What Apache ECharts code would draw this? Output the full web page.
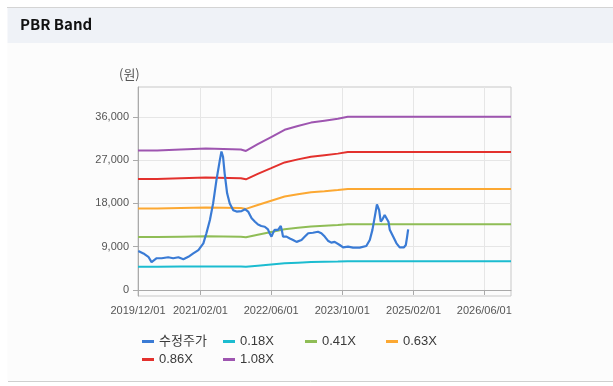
<!DOCTYPE html>
<html>
<head>
<meta charset="utf-8">
<script src="https://cdn.jsdelivr.net/npm/echarts@6/dist/echarts.min.js"></script>
<style>
html,body{margin:0;padding:0;background:#fff;}
#c{width:613px;height:386px;}
</style>
</head>
<body>
<div id="c"></div>
<script>
// ---- data ----
var xTickLabels = ['2019-12-01','2021-02-01','2022-06-01','2023-10-01','2025-02-01','2026-06-01'];
var yTickValues = [0, 9000, 18000, 27000, 36000];

var priceDates = ['2019-12-03','2020-01-07','2020-02-10','2020-03-03','2020-03-14','2020-04-07','2020-05-11','2020-06-25','2020-07-29','2020-09-03','2020-10-07','2020-11-10','2020-12-14','2021-01-18','2021-01-29','2021-02-21','2021-03-14','2021-04-07','2021-04-29','2021-05-22','2021-06-14','2021-06-25','2021-07-06','2021-07-17','2021-08-03','2021-08-21','2021-09-14','2021-10-07','2021-11-10','2021-12-03','2021-12-25','2022-01-18','2022-02-10','2022-03-03','2022-03-25','2022-04-18','2022-05-10','2022-05-21','2022-06-03','2022-06-14','2022-06-25','2022-07-07','2022-07-18','2022-08-06','2022-08-15','2022-08-21','2022-09-14','2022-10-07','2022-10-29','2022-11-22','2022-12-26','2023-01-18','2023-02-10','2023-03-14','2023-04-18','2023-05-11','2023-06-03','2023-06-25','2023-07-18','2023-08-10','2023-09-14','2023-10-07','2023-11-10','2023-12-14','2024-01-29','2024-03-14','2024-04-07','2024-04-25','2024-05-11','2024-05-26','2024-06-10','2024-06-21','2024-07-03','2024-07-18','2024-07-30','2024-08-13','2024-08-22','2024-09-14','2024-10-07','2024-10-29','2024-11-26','2024-12-10','2024-12-19','2024-12-26'];
var priceValues = [8100,7600,6900,5800,6200,6600,6600,6800,6600,6800,6400,6900,7600,8300,8650,9700,11800,14550,18000,22900,27000,28800,27700,24250,20100,18000,16600,16300,16400,16800,16300,14900,14200,13600,13300,13150,12600,11800,11100,11900,12500,12100,12500,13300,12100,11100,11100,10700,10400,10000,10400,11100,11800,11900,12100,11800,11100,10250,9850,10000,9350,8850,9000,8800,8800,9150,10400,12500,15200,17800,16600,14200,14700,15600,15200,14200,12500,11100,9700,8850,8850,9350,11100,12600];

var bandDates = ['2019-12-01','2020-04-10','2020-04-20','2020-09-20','2020-09-30','2021-03-10','2021-03-20','2021-11-05','2021-11-15','2021-12-10','2022-03-01','2022-06-01','2022-09-01','2022-12-01','2023-03-01','2023-06-01','2023-09-01','2023-11-08','2026-12-01'];
var band018 = [4830,4830,4870,4870,4900,4900,4870,4870,4820,4820,5050,5300,5550,5680,5800,5870,5930,6000,6000];
var band041 = [11010,11010,11080,11080,11160,11160,11080,11080,10970,10970,11500,12070,12640,12950,13210,13360,13510,13670,13670];
var band063 = [16920,16920,17030,17030,17150,17150,17030,17030,16860,16860,17670,18550,19420,19890,20300,20530,20770,21000,21000];
var band086 = [23090,23090,23250,23250,23410,23410,23250,23250,23010,23010,24130,25320,26520,27150,27710,28030,28350,28670,28670];
var band108 = [29000,29000,29200,29200,29400,29400,29200,29200,28900,28900,30300,31800,33300,34100,34800,35200,35600,36000,36000];

var seriesNames = ['수정주가','0.18X','0.41X','0.63X','0.86X','1.08X'];
var seriesColors = ['#3a7bd5','#1cbcd0','#8fbd56','#fca832','#e3312d','#9e55b0'];

// ---- build ----
function ts(s){ var p=s.split('-'); return Date.UTC(+p[0], +p[1]-1, +p[2]); }
function pairs(d, v){ var o=[]; for(var i=0;i<d.length;i++){ o.push([ts(d[i]), v[i]]); } return o; }
function pad(n){ return (n<10?'0':'')+n; }

var bandData = [band018, band041, band063, band086, band108];
var series = [];
for (var k=0;k<5;k++){
  series.push({
    name: seriesNames[k+1], type:'line', data: pairs(bandDates, bandData[k]),
    showSymbol:false, symbol:'none', lineStyle:{width:2, color:seriesColors[k+1]},
    itemStyle:{color:seriesColors[k+1]}, z:2, silent:true
  });
}
series.unshift({
  name: seriesNames[0], type:'line', data: pairs(priceDates, priceValues),
  showSymbol:false, symbol:'none', lineStyle:{width:2.2, color:seriesColors[0]},
  itemStyle:{color:seriesColors[0]}, z:4, silent:true
});

var legendPos = [[142,335],[223,335],[305,335],[386,335],[142,353],[223,353]];
var legends = seriesNames.map(function(n,i){
  return {
    data:[n], left:legendPos[i][0], top:legendPos[i][1], padding:0,
    icon:'rect', itemWidth:12, itemHeight:3, selectedMode:false,
    textStyle:{color:'#3a3a3a', fontSize:13, fontFamily:'"Liberation Sans","Noto Sans CJK KR",sans-serif'}
  };
});

var xTickTs = xTickLabels.map(ts);
var chart = echarts.init(document.getElementById('c'), null, {renderer:'canvas'});
chart.setOption({
  animation:false,
  backgroundColor:'#ffffff',
  graphic:[
    {type:'rect', shape:{x:7.5,y:43,width:606,height:338}, style:{fill:'#fcfcfc'}, z:-10},
    {type:'rect', shape:{x:7.5,y:7.5,width:606,height:35.5}, style:{fill:'#eff2f7'}, z:-9},
    {type:'line', shape:{x1:7,y1:7.5,x2:613,y2:7.5}, style:{stroke:'#d4d4d4', lineWidth:1}, z:-8},
    {type:'line', shape:{x1:8,y1:381.5,x2:613,y2:381.5}, style:{stroke:'#cfcfcf', lineWidth:1}, z:-8},
    {type:'text', left:20, top:17, style:{text:'PBR Band', fill:'#111', font:'bold 15px "Noto Sans CJK KR", sans-serif'}},
    {type:'text', left:119, top:68, style:{text:'(원)', fill:'#555', font:'13px "Noto Sans CJK KR", sans-serif'}}
  ],
  legend: legends,
  grid:{left:138, top:87, right:102, bottom:90, show:true, borderColor:'#c8c8c8', borderWidth:1, backgroundColor:'transparent'},
  xAxis:{
    type:'value', min:ts('2019-12-01'), max:ts('2026-12-01'),
    axisLine:{show:true, lineStyle:{color:'#aaaaaa'}},
    axisTick:{show:true, length:5, lineStyle:{color:'#aaaaaa'}, customValues:xTickTs},
    axisLabel:{customValues:xTickTs, color:'#555', fontSize:11, margin:9,
      fontFamily:'"Liberation Sans", Arial, sans-serif',
      formatter:function(v){ var d=new Date(v); return d.getUTCFullYear()+'/'+pad(d.getUTCMonth()+1)+'/'+pad(d.getUTCDate()); }},
    splitLine:{show:true, lineStyle:{color:'#e6e6e6'}}
  },
  yAxis:{
    type:'value', min:-1250, max:42200,
    axisLine:{show:true, lineStyle:{color:'#aaaaaa'}},
    axisTick:{show:true, length:5, lineStyle:{color:'#aaaaaa'}, customValues:yTickValues},
    axisLabel:{customValues:yTickValues, color:'#555', fontSize:11, margin:9,
      fontFamily:'"Liberation Sans", Arial, sans-serif',
      formatter:function(v){ return String(v).replace(/\B(?=(\d{3})+(?!\d))/g, ','); }},
    splitLine:{show:true, lineStyle:{color:'#e6e6e6'}}
  },
  series: series
});
</script>
</body>
</html>
